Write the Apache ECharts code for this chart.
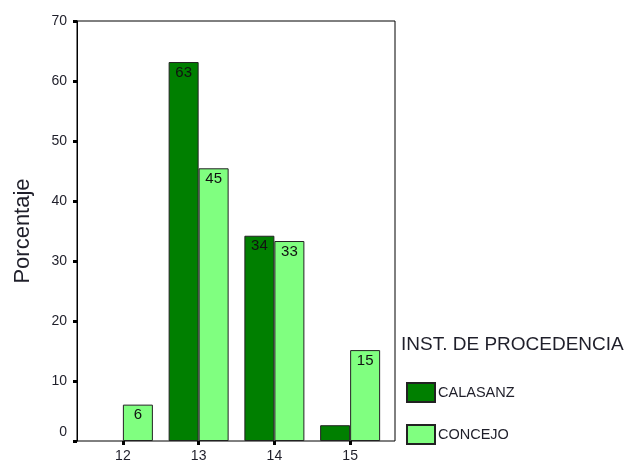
<!DOCTYPE html>
<html>
<head>
<meta charset="utf-8">
<script src="https://cdn.jsdelivr.net/npm/echarts@6/dist/echarts.min.js"></script>
<style>
  html, body { margin: 0; padding: 0; background: #fff; }
  #chart { width: 624px; height: 462px; }
</style>
</head>
<body>
<div id="chart"></div>
<script>
// Edad (años) por institución de procedencia, en porcentaje
const categories = ['12', '13', '14', '15'];
const calasanz = [0, 63.16, 34.21, 2.63];
const concejo = [6.06, 45.45, 33.33, 15.15];
const yTicks = { min: 0, max: 70, step: 10 };

const DARK = '#007F00';
const LIGHT = '#80FF80';
const TEXT = '#1f1f2a';
const FONT = 'Arial, "Liberation Sans", sans-serif';

// empty groups get no bar at all
function bars(values) {
  return values.map(function (v) { return v === 0 ? '-' : v; });
}

function valueLabel(p) {
  return p.value >= 5 ? Math.round(p.value).toString() : '';
}

const chart = echarts.init(document.getElementById('chart'), null, { renderer: 'canvas' });
chart.setOption({
  backgroundColor: '#fff',
  animation: false,
  title: {
    text: 'INST. DE PROCEDENCIA',
    left: 401,
    top: 335,
    padding: 0,
    textStyle: { fontFamily: FONT, fontSize: 19, fontWeight: 'normal', color: TEXT }
  },
  legend: {
    orient: 'vertical',
    left: 406,
    top: 382,
    padding: 0,
    icon: 'rect',
    itemWidth: 28,
    itemHeight: 19,
    itemGap: 21,
    textStyle: { fontFamily: FONT, fontSize: 14.5, color: TEXT, padding: [0, 0, 0, -2] },
    data: ['CALASANZ', 'CONCEJO']
  },
  grid: [
    // frame around the plot
    { left: 77, top: 21, width: 318, height: 420, show: true, borderColor: '#000', borderWidth: 1, backgroundColor: 'transparent', containLabel: false, outerBoundsMode: 'none' },
    // bar area
    { left: 85, top: 21, width: 303, height: 420, containLabel: false, outerBoundsMode: 'none' }
  ],
  xAxis: [
    { gridIndex: 0, type: 'value', show: false, min: 0, max: 1 },
    {
      gridIndex: 1,
      type: 'category',
      data: categories,
      boundaryGap: true,
      axisLine: { show: false },
      axisTick: { show: true, alignWithLabel: true, length: 4, lineStyle: { color: '#000', width: 3 } },
      axisLabel: { fontFamily: FONT, fontSize: 14, color: TEXT, margin: 8 }
    }
  ],
  yAxis: [
    { gridIndex: 0, type: 'value', show: false, min: 0, max: 1 },
    {
      gridIndex: 1,
      type: 'value',
      min: yTicks.min,
      max: yTicks.max,
      interval: yTicks.step,
      offset: 8,
      name: 'Porcentaje',
      nameLocation: 'middle',
      nameGap: 43,
      nameTextStyle: { fontFamily: FONT, fontSize: 22, color: TEXT },
      axisLine: { show: true, lineStyle: { color: '#000', width: 1 } },
      axisTick: { show: true, length: 4, lineStyle: { color: '#000', width: 3 } },
      splitLine: { show: false },
      axisLabel: {
        fontFamily: FONT, fontSize: 14, color: TEXT, margin: 10,
        formatter: function (v) { return v === 0 ? '{z|0}' : String(v); },
        rich: { z: { fontFamily: FONT, fontSize: 14, color: TEXT, padding: [0, 0, 18, 0] } }
      }
    }
  ],
  series: [
    {
      name: 'CALASANZ',
      type: 'bar',
      xAxisIndex: 1,
      yAxisIndex: 1,
      data: bars(calasanz),
      barWidth: 30,
      barGap: '0%',
      itemStyle: { color: DARK, borderColor: '#222', borderWidth: 1 },
      label: { show: true, position: 'insideTop', distance: 3, fontFamily: FONT, fontSize: 15, color: '#111', formatter: valueLabel }
    },
    {
      name: 'CONCEJO',
      type: 'bar',
      xAxisIndex: 1,
      yAxisIndex: 1,
      data: bars(concejo),
      barWidth: 30,
      barGap: '0%',
      itemStyle: { color: LIGHT, borderColor: '#222', borderWidth: 1 },
      label: { show: true, position: 'insideTop', distance: 3, fontFamily: FONT, fontSize: 15, color: '#111', formatter: valueLabel }
    }
  ]
});
</script>
</body>
</html>
